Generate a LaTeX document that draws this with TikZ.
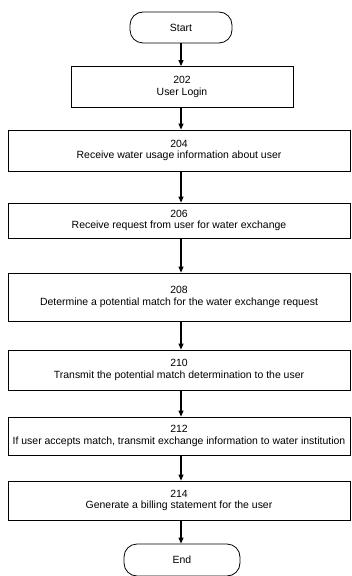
\documentclass[tikz,border=0pt]{standalone}
\usepackage{fontspec}
\setmainfont{Liberation Sans}
\usetikzlibrary{arrows.meta}
\begin{document}
\begin{tikzpicture}[x=1bp,y=-1bp,
  every node/.style={font=\fontsize{10.5}{11.5}\selectfont, align=center, inner sep=0pt},
  stepbox/.style={draw, line width=0.8bp, rectangle},
  term/.style={draw, line width=0.8bp, rectangle, rounded corners=13bp},
  flow/.style={line width=1.1bp, -{Triangle[length=6bp,width=5bp]}}]
\useasboundingbox (0,0) rectangle (351,576);
\node[term, minimum width=102bp, minimum height=31bp] (start) at (181,27.5) {Start};
\node[stepbox, minimum width=222bp, minimum height=41bp] (s202) at (182,87) {202\\User Login};
\node[stepbox, minimum width=342bp, minimum height=41bp] (s204) at (179,150.5) {204\\Receive water usage information about user};
\node[stepbox, minimum width=342bp, minimum height=35bp] (s206) at (179,220.5) {206\\Receive request from user for water exchange};
\node[stepbox, minimum width=342bp, minimum height=48bp] (s208) at (179,297) {208\\Determine a potential match for the water exchange request};
\node[stepbox, minimum width=342bp, minimum height=40bp] (s210) at (179,370) {210\\Transmit the potential match determination to the user};
\node[stepbox, minimum width=342bp, minimum height=38bp] (s212) at (179,436) {212\\If user accepts match, transmit exchange information to water institution};
\node[stepbox, minimum width=342bp, minimum height=39bp] (s214) at (179,500.5) {214\\Generate a billing statement for the user};
\node[term, minimum width=116bp, minimum height=32bp] (end) at (182,560) {End};
\draw[flow] (start.south -| 181,0) -- (s202.north -| 181,0);
\draw[flow] (s202.south -| 181,0) -- (s204.north -| 181,0);
\draw[flow] (s204.south -| 181,0) -- (s206.north -| 181,0);
\draw[flow] (s206.south -| 181,0) -- (s208.north -| 181,0);
\draw[flow] (s208.south -| 181,0) -- (s210.north -| 181,0);
\draw[flow] (s210.south -| 181,0) -- (s212.north -| 181,0);
\draw[flow] (s212.south -| 181,0) -- (s214.north -| 181,0);
\draw[flow] (s214.south -| 181,0) -- (end.north -| 181,0);
\end{tikzpicture}
\end{document}
